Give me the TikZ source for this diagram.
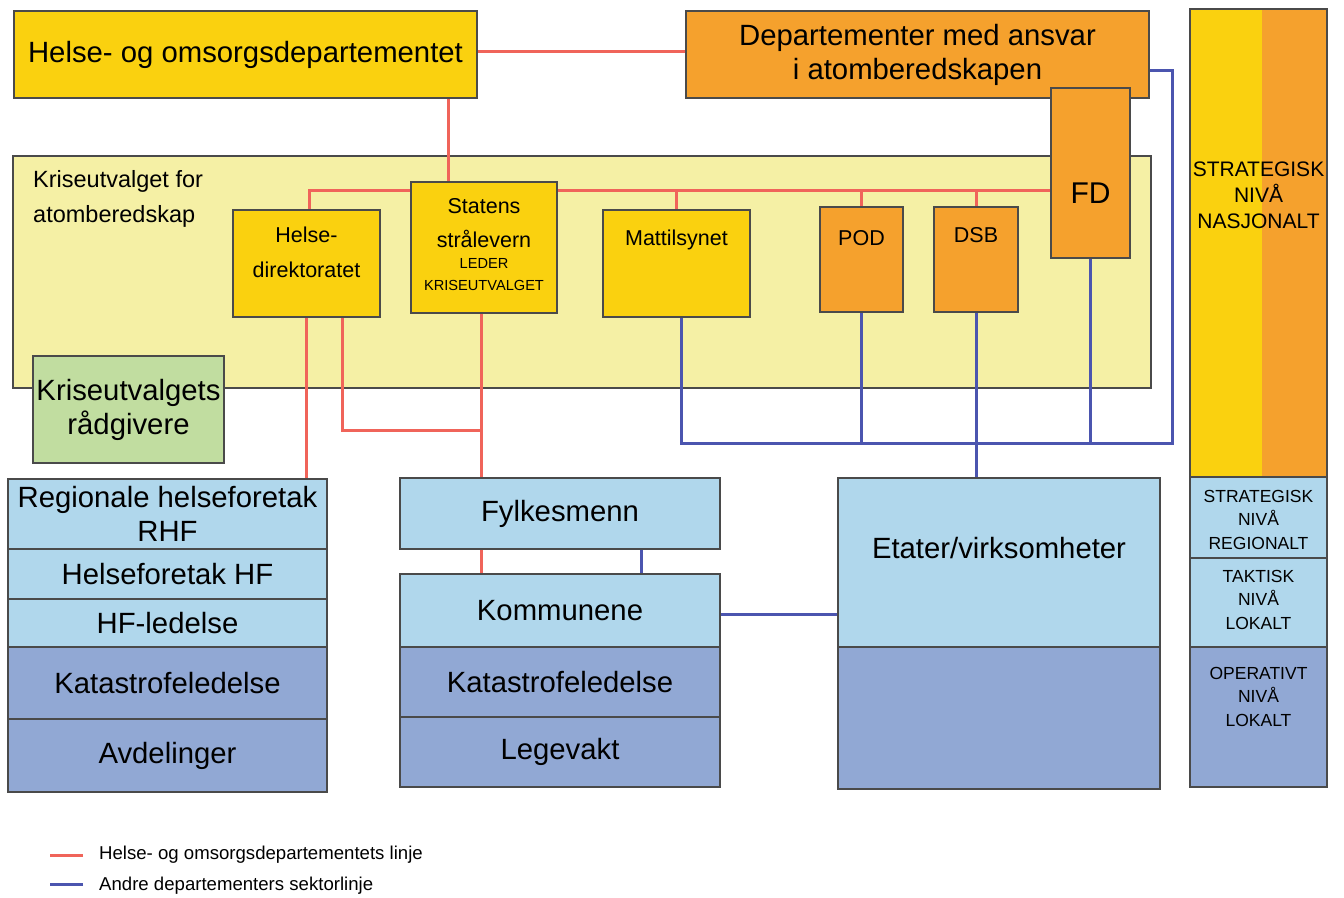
\documentclass[tikz,border=0pt]{standalone}
\usepackage{fontspec}
\setmainfont{Liberation Sans}
\usetikzlibrary{positioning}

\definecolor{hodyellow}{HTML}{FAD10F}
\definecolor{deporange}{HTML}{F5A12D}
\definecolor{krisepale}{HTML}{F5F0A5}
\definecolor{advgreen}{HTML}{C1DDA0}
\definecolor{lightblue}{HTML}{B0D7EC}
\definecolor{darkblue}{HTML}{91A8D4}
\definecolor{hodred}{HTML}{F0645A}
\definecolor{sectorblue}{HTML}{4B55AF}
\definecolor{boxline}{HTML}{4A4A4A}

\newcommand{\fsz}[2]{\fontsize{#1}{#2}\selectfont}

\pgfdeclarelayer{bg}
\pgfdeclarelayer{lines}
\pgfsetlayers{bg,lines,main}

\begin{document}
\begin{tikzpicture}[x=1pt, y=-1pt]
	% Styles for boxes, texts and the two kinds of lines.
	\tikzset{
		box/.style={draw=boxline, line width=1.5pt, rectangle, inner sep=0pt, outer sep=0pt, anchor=north west, align=center},
		txt/.style={inner sep=0pt, anchor=north, align=center},
		redline/.style={draw=hodred, line width=3pt},
		blueline/.style={draw=sectorblue, line width=3pt},
		big/.style={font=\fsz{29.3}{34}},
		mid/.style={font=\fsz{21.5}{34.5}},
		small/.style={font=\fsz{17.5}{23.5}},
		legtxt/.style={inner sep=0pt, anchor=west, font=\fsz{18.6}{22}}
	}
	\useasboundingbox (0,0) rectangle (1344,897);
	
	% === TOP LEVEL ===
	\node[box, big, fill=hodyellow, minimum width=463pt, minimum height=87pt] (hod) at (14,11) {Helse- og omsorgsdepartementet};
	\node[box, big, fill=deporange, minimum width=463pt, minimum height=87pt] (dep) at (686,11) {Departementer med ansvar\\i atomberedskapen};
	
	% === KRISEUTVALGET ===
	\begin{pgfonlayer}{bg}
		\node[box, fill=krisepale, minimum width=1138pt, minimum height=232pt] (krise) at (13,156) {};
	\end{pgfonlayer}
	\node[txt, anchor=north west, align=left, font=\fsz{23.5}{35}] (krisetxt) at (33,170) {Kriseutvalget for\\atomberedskap};
	
	\node[box, fill=hodyellow, minimum width=147pt, minimum height=107pt] (hd) at (233,210) {};
	\node[txt, mid, below=17pt of hd.north] (hdtxt) {Helse-\\direktoratet};
	\node[box, fill=hodyellow, minimum width=146pt, minimum height=131pt] (ss) at (411,182) {};
	\node[txt, mid, below=16pt of ss.north] (sstxt) {Statens\\strålevern};
	\node[txt, font=\fsz{14.6}{22}, below=76pt of ss.north] (sslead) {LEDER\\KRISEUTVALGET};
	\node[box, fill=hodyellow, minimum width=147pt, minimum height=107pt] (mt) at (603,210) {};
	\node[txt, mid, below=20pt of mt.north] (mttxt) {Mattilsynet};
	\node[box, fill=deporange, minimum width=83pt, minimum height=105pt] (pod) at (820,207) {};
	\node[txt, mid, below=23pt of pod.north] (podtxt) {POD};
	\node[box, fill=deporange, minimum width=84pt, minimum height=105pt] (dsb) at (934,207) {};
	\node[txt, mid, below=20pt of dsb.north] (dsbtxt) {DSB};
	\node[box, fill=deporange, minimum width=79pt, minimum height=170pt] (fd) at (1051,88) {};
	\node[txt, font=\fsz{30}{34}, below=95pt of fd.north] (fdtxt) {FD};
	
	\node[box, big, fill=advgreen, minimum width=191pt, minimum height=107pt] (adv) at (33,356) {Kriseutvalgets\\rådgivere};
	
	% === HELSEFORETAK ===
	\node[box, big, fill=lightblue, minimum width=319pt, minimum height=70pt] (rhf) at (8,479) {Regionale helseforetak\\RHF};
	\node[box, big, fill=lightblue, minimum width=319pt, minimum height=50pt, below=0pt of rhf] (hf) {Helseforetak HF};
	\node[box, big, fill=lightblue, minimum width=319pt, minimum height=48pt, below=0pt of hf] (hfl) {HF-ledelse};
	\node[box, big, fill=darkblue, minimum width=319pt, minimum height=72pt, below=0pt of hfl] (kat1) {Katastrofeledelse};
	\node[box, big, fill=darkblue, minimum width=319pt, minimum height=73pt, below=0pt of kat1] (avd) {Avdelinger};
	
	% === FYLKE / KOMMUNE ===
	\node[box, big, fill=lightblue, minimum width=320pt, minimum height=71pt] (fy) at (400,478) {Fylkesmenn};
	\node[box, big, fill=lightblue, minimum width=320pt, minimum height=73pt] (kom) at (400,574) {Kommunene};
	\node[box, big, fill=darkblue, minimum width=320pt, minimum height=70pt, below=0pt of kom] (kat2) {Katastrofeledelse};
	\node[box, big, fill=darkblue, minimum width=320pt, minimum height=70pt, below=0pt of kat2] (lege) {Legevakt};
	
	% === ETATER ===
	\node[box, fill=lightblue, minimum width=322pt, minimum height=169pt] (et) at (838,478) {};
	\node[txt, big, below=59pt of et.north] (ettxt) {Etater/virksomheter};
	\node[box, fill=darkblue, minimum width=322pt, minimum height=142pt, below=0pt of et] (etop) {};
	
	% === LEVELS ===
	\node[box, fill=deporange, minimum width=137pt, minimum height=468pt,
		path picture={\fill[hodyellow] (path picture bounding box.north west) rectangle ([xshift=72pt]path picture bounding box.south west);}] (nas) at (1190,9) {};
	\node[txt, font=\fsz{21}{26}, below=153pt of nas.north] (nastxt) {STRATEGISK\\NIVÅ\\NASJONALT};
	\node[box, fill=lightblue, minimum width=137pt, minimum height=81pt, below=0pt of nas] (reg) {};
	\node[txt, small, below=13pt of reg.north] (regtxt) {STRATEGISK\\NIVÅ\\REGIONALT};
	\node[box, fill=lightblue, minimum width=137pt, minimum height=89pt, below=0pt of reg] (tak) {};
	\node[txt, small, below=12pt of tak.north] (taktxt) {TAKTISK\\NIVÅ\\LOKALT};
	\node[box, fill=darkblue, minimum width=137pt, minimum height=140pt, below=0pt of tak] (ope) {};
	\node[txt, small, below=20pt of ope.north] (opetxt) {OPERATIVT\\NIVÅ\\LOKALT};
	
	% === LEGEND ===
	\node[legtxt] (legred) at (99,855) {Helse- og omsorgsdepartementets linje};
	\node[legtxt] (legblue) at (99,886) {Andre departementers sektorlinje};
	
	% === CONNECTIONS ===
	\coordinate (bus) at (0,190);
	\coordinate (loop) at (0,430);
	\coordinate (sect) at (1172,443);
	\coordinate (sscol) at ([xshift=-3pt]ss.south);
	\coordinate (mtcol) at ([xshift=4.5pt]mt.south);
	\coordinate (fycol) at ([xshift=81pt]fy.south);
	\coordinate (komout) at ([yshift=-3.5pt]kom.east);
	
	\begin{pgfonlayer}{lines}
		% health line
		\draw[redline] ([yshift=3.5pt]hod.east) -- ([yshift=3.5pt]dep.west);
		\draw[redline] ([xshift=-36pt]ss.north) -- ([xshift=-36pt]ss.north |- hod.south);
		\draw[redline] ([xshift=2.5pt]hd.north) |- (bus -| fd.west);
		\foreach \n in {mt,pod,dsb}
			\draw[redline] (\n.north) -- (\n.north |- bus);
		\draw[redline] (hd.south) -- (hd.south |- rhf.north);
		\draw[redline] ([xshift=35.5pt]hd.south) |- (loop -| sscol);
		\draw[redline] (sscol) -- (sscol |- fy.north);
		\draw[redline] (sscol |- fy.south) -- (sscol |- kom.north);
		% sector line
		\draw[blueline] ([yshift=-15.5pt]dep.east) -| (sect) -- (sect -| mtcol) -- (mtcol);
		\foreach \n in {pod,dsb,fd}
			\draw[blueline] (\n.south) -- (\n.south |- sect);
		\draw[blueline] (sect -| dsb.south) -- (dsb.south |- et.north);
		\draw[blueline] (fycol) -- (fycol |- kom.north);
		\draw[blueline] (komout) -- (komout -| et.west);
	\end{pgfonlayer}
	
	\draw[redline] ([xshift=-16pt]legred.west) -- ([xshift=-49pt]legred.west);
	\draw[blueline] ([xshift=-16pt,yshift=2pt]legblue.west) -- ([xshift=-49pt,yshift=2pt]legblue.west);
\end{tikzpicture}
\end{document}
